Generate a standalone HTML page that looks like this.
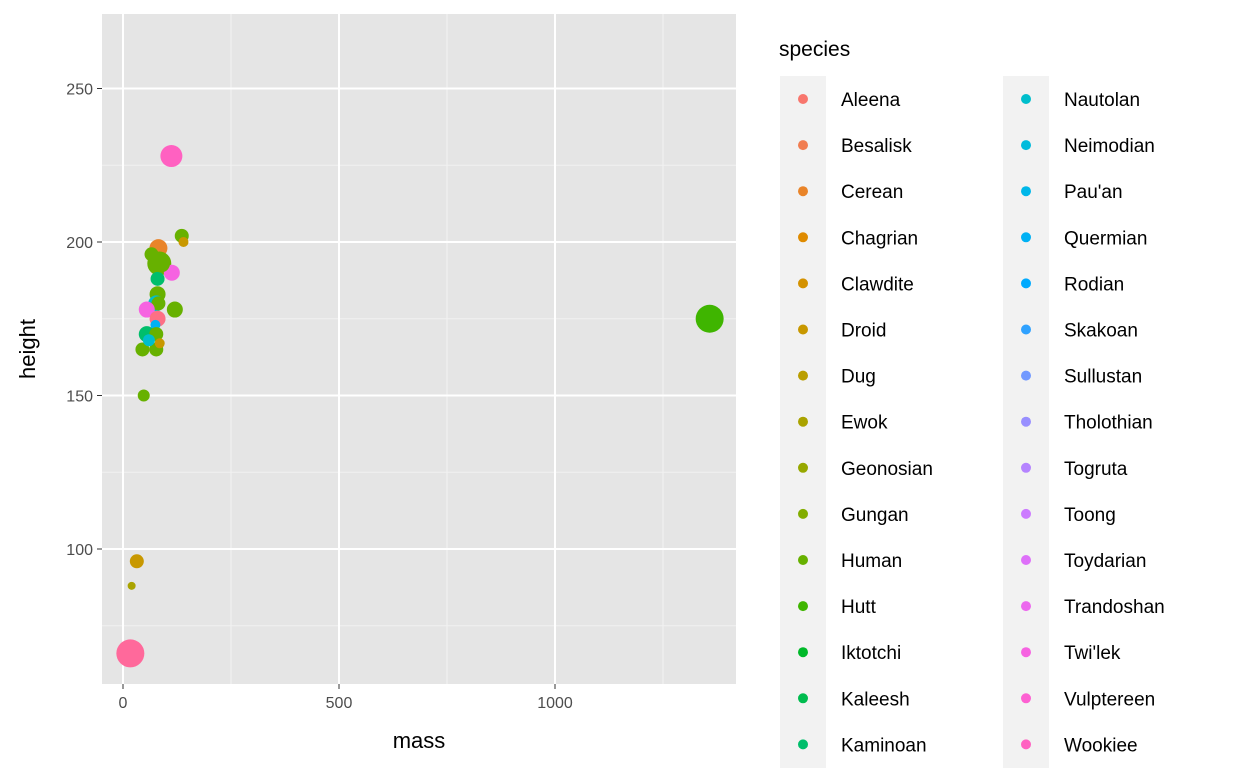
<!DOCTYPE html>
<html><head><meta charset="utf-8"><style>
body{margin:0;background:#fff;font-family:"Liberation Sans",sans-serif;overflow:hidden}
</style></head><body>
<svg id="c" width="1248" height="768" xmlns="http://www.w3.org/2000/svg"></svg>
<script>
const speciesList=["Aleena","Besalisk","Cerean","Chagrian","Clawdite","Droid","Dug","Ewok","Geonosian","Gungan","Human","Hutt","Iktotchi","Kaleesh","Kaminoan","Kel Dor","Mirialan","Mon Calamari","Muun","Nautolan","Neimodian","Pau'an","Quermian","Rodian","Skakoan","Sullustan","Tholothian","Togruta","Toong","Toydarian","Trandoshan","Twi'lek","Vulptereen","Wookiee","Xexto","Yoda's species","Zabrak"];
const massVals=[112,1358,17,20,32,48,136,140,82,66,84,113,80,80,77,82,55,120,80,75,55,77,45,77,85,88,60];
const heightVals=[228,175,66,88,96,150,202,200,198,196,193,190,188,183,180,180,178,178,175,173,170,170,165,165,167,193,168];
const pointSpecies=["Wookiee","Hutt","Yoda's species","Ewok","Droid","Human","Human","Droid","Cerean","Human","Human","Twi'lek","Kaminoan","Human","Nautolan","Human","Twi'lek","Human","Zabrak","Quermian","Kaminoan","Human","Human","Human","Droid","Human","Nautolan"];
const sizeVals=[11,14,14,4,7,6,7,5,9,7,12,8,7,8,8,7,8,8,8,5,8,7,7,7,5,9,6];
const xTicks=[0,500,1000], yTicks=[100,150,200,250];

const svg=document.getElementById('c');const NS="http://www.w3.org/2000/svg";
function mk(t,a,p){const e=document.createElementNS(NS,t);for(const k in a)e.setAttribute(k,a[k]);(p||svg).appendChild(e);return e;}
function hcl(h){const L=65,C=100,hr=h*Math.PI/180;const u=C*Math.cos(hr),v=C*Math.sin(hr);
 const Y=Math.pow((L+16)/116,3);const un=0.19784,vn=0.46834;
 const up=u/(13*L)+un, vp=v/(13*L)+vn;
 const X=Y*9*up/(4*vp), Z=Y*(12-3*up-20*vp)/(4*vp);
 let r=3.2406*X-1.5372*Y-0.4986*Z,g=-0.9689*X+1.8758*Y+0.0415*Z,bb=0.0557*X-0.2040*Y+1.0570*Z;
 const gm=v=>{v=v<=0.0031308?12.92*v:1.055*Math.pow(v,1/2.4)-0.055;return Math.round(Math.max(0,Math.min(1,v))*255);};
 return `rgb(${gm(r)},${gm(g)},${gm(bb)})`;}
const n=speciesList.length;const col={};speciesList.forEach((s,i)=>col[s]=hcl(15+360*i/n));
const X0=102,X1=736,Y0=14,Y1=684;
const xs=v=>123+v*0.432; const ys=v=>549-(v-100)*3.07;
const bg=mk('rect',{x:X0,y:Y0,width:X1-X0,height:Y1-Y0,fill:'#e5e5e5'});


[250,750,1250].forEach(v=>{const l=mk('line',{x1:xs(v),x2:xs(v),y1:Y0,y2:Y1,stroke:'#f2f2f2','stroke-width':1});});
[75,125,175,225].forEach(v=>{const l=mk('line',{x1:X0,x2:X1,y1:ys(v),y2:ys(v),stroke:'#f2f2f2','stroke-width':1});});
xTicks.forEach(v=>{const l=mk('line',{x1:xs(v),x2:xs(v),y1:Y0,y2:Y1,stroke:'#fff','stroke-width':2});
 mk('line',{x1:xs(v),x2:xs(v),y1:Y1,y2:Y1+5,stroke:'#333'});
 const t=mk('text',{x:xs(v),y:Y1+24,'text-anchor':'middle','font-size':16,fill:'#4d4d4d'});t.textContent=v;});
yTicks.forEach(v=>{const l=mk('line',{x1:X0,x2:X1,y1:ys(v),y2:ys(v),stroke:'#fff','stroke-width':2});
 mk('line',{x1:X0-5,x2:X0,y1:ys(v),y2:ys(v),stroke:'#333'});
 const t=mk('text',{x:X0-9,y:ys(v)+6,'text-anchor':'end','font-size':16,fill:'#4d4d4d'});t.textContent=v;});
massVals.forEach((m,i)=>{const c=mk('circle',{cx:xs(m),cy:ys(heightVals[i]),r:sizeVals[i],fill:col[pointSpecies[i]]});
 
 });
const xt=mk('text',{x:419,y:748,'text-anchor':'middle','font-size':22,fill:'#000'});xt.textContent='mass';

const yt=mk('text',{x:0,y:0,'text-anchor':'middle','font-size':22,transform:'translate(35,349) rotate(-90)'});yt.textContent='height';

const lt=mk('text',{x:779,y:56,'font-size':21});lt.textContent='species';

const legendCols=[speciesList.slice(0,15),speciesList.slice(19,34)];
[[780,0],[1003,1]].forEach(([x,ci])=>{mk('rect',{x:x,y:76,width:46,height:692,fill:'#f2f2f2'});
 legendCols[ci].forEach((s,k)=>{const y=99+k*46.1;
  const c=mk('circle',{cx:x+23,cy:y,r:5,fill:col[s]});
  const t=mk('text',{x:x+61,y:y+7,'font-size':19});t.textContent=s;});});
</script></body></html>
